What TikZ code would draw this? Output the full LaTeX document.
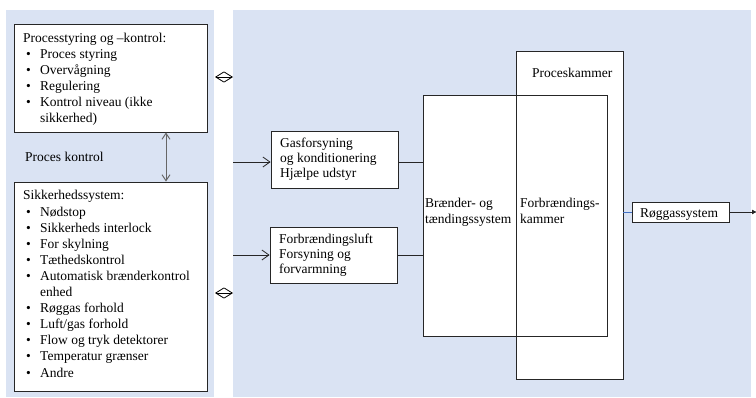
\documentclass[tikz,border=0pt]{standalone}
\usepackage{fontspec}
\setmainfont{Liberation Serif}
\usetikzlibrary{arrows.meta}
\definecolor{panel}{HTML}{DAE3F3}
\definecolor{edge}{HTML}{262626}
\definecolor{bluel}{HTML}{4472C4}
\newcommand\dfont{\fontsize{13.5}{16}\selectfont}
\newcommand\bul[1]{\makebox[14pt][l]{\textbullet}#1}
\begin{document}
\begin{tikzpicture}[x=1pt,y=-1pt,
  box/.style={draw=edge, line width=0.8pt, fill=white, inner sep=0pt},
  boxline/.style={draw=edge, line width=0.8pt},
  txt/.style={font=\dfont, inner sep=0pt, anchor=base west, text=black},
  conn/.style={draw=edge, line width=0.8pt},
  barb/.style={conn, -{Straight Barb[length=7pt,width=10pt]}},
  dbl/.style={draw=black, line width=0.8pt, {Straight Barb[length=8pt,width=10pt]}-{Straight Barb[length=8pt,width=10pt]}},
  vdbl/.style={draw=black!60, line width=1pt, {Straight Barb[length=6pt,width=8pt]}-{Straight Barb[length=6pt,width=8pt]}}
]
\useasboundingbox (0,0) rectangle (756,397);
% panels
\fill[panel] (6,10) rectangle (214,397);
\fill[panel] (233,10) rectangle (751,397);

% left boxes
\node[box, minimum width=193pt, minimum height=108pt] (tl) at (110.5,78) {};
\node[box, minimum width=193pt, minimum height=209pt] (bl) at (110.5,286.5) {};

\node[txt] (tl0) at (23,42) {Processtyring og –kontrol:};
\node[txt] (tl1) at (26,58.1) {\bul{Proces styring}};
\node[txt] (tl2) at (26,74.2) {\bul{Overvågning}};
\node[txt] (tl3) at (26,90.3) {\bul{Regulering}};
\node[txt] (tl4) at (26,106.4) {\bul{Kontrol niveau (ikke}};
\node[txt] (tl5) at (40,122.5) {sikkerhed)};

\node[txt] (pkl) at (25,161) {Proces kontrol};

\node[txt] (bl0) at (23,199.5) {Sikkerhedssystem:};
\node[txt] (bl1) at (26,216) {\bul{Nødstop}};
\node[txt] (bl2) at (26,232.1) {\bul{Sikkerheds interlock}};
\node[txt] (bl3) at (26,248.2) {\bul{For skylning}};
\node[txt] (bl4) at (26,264.3) {\bul{Tæthedskontrol}};
\node[txt] (bl5) at (26,280.4) {\bul{Automatisk brænderkontrol}};
\node[txt] (bl6) at (40,296.5) {enhed};
\node[txt] (bl7) at (26,312.6) {\bul{Røggas forhold}};
\node[txt] (bl8) at (26,328.7) {\bul{Luft/gas forhold}};
\node[txt] (bl9) at (26,344.8) {\bul{Flow og tryk detektorer}};
\node[txt] (bl10) at (26,360.9) {\bul{Temperatur grænser}};
\node[txt] (bl11) at (26,377) {\bul{Andre}};

% vertical arrow
\coordinate (vx) at (166,0);
\draw[vdbl] (vx |- tl.south) -- (vx |- bl.north);

% small double arrows
\coordinate (d1a) at (215,77);
\coordinate (d1b) at (233,77);
\draw[dbl] (d1a) -- (d1b);
\coordinate (d2a) at (215,293);
\coordinate (d2b) at (233,293);
\draw[dbl] (d2a) -- (d2b);

% supply boxes
\node[box, minimum width=127pt, minimum height=57pt] (gas) at (334.5,159.5) {};
\node[txt] (gas1) at (280,147) {Gasforsyning};
\node[txt] (gas2) at (280,162) {og konditionering};
\node[txt] (gas3) at (280,177) {Hjælpe udstyr};

\node[box, minimum width=127pt, minimum height=56pt] (air) at (333.5,255) {};
\node[txt] (air1) at (279,243) {Forbrændingsluft};
\node[txt] (air2) at (279,258) {Forsyning og};
\node[txt] (air3) at (279,273) {forvarmning};

% chambers
\node[fill=white, inner sep=0pt, minimum width=106pt, minimum height=327pt] (pk) at (570,215.5) {};
\node[box, minimum width=184pt, minimum height=241pt] (burner) at (515,215.5) {};
\draw[boxline] (pk.north west) rectangle (pk.south east);
\node[txt] (pkt) at (532,77) {Proceskammer};
\node[txt] (bu1) at (425,207) {Brænder- og};
\node[txt] (bu2) at (425,223) {tændingssystem};
\node[txt] (fk1) at (520,207) {Forbrændings-};
\node[txt] (fk2) at (520,223) {kammer};

% flue gas
\node[box, minimum width=97pt, minimum height=20pt] (rg) at (680.5,212) {};
\node[txt] (rgt) at (640,217) {Røggassystem};

% connectors
\coordinate (gin) at (233,162);
\draw[barb] (gin) -- (gin -| gas.west);
\draw[conn] (gas.east |- gin) -- (gin -| burner.west);
\coordinate (ain) at (233,255);
\draw[barb] (ain) -- (ain -| air.west);
\draw[conn] (air.east |- ain) -- (ain -| burner.west);
\draw[draw=bluel, line width=0.7pt] (pk.east |- rg.west) -- (rg.west);
\coordinate (out) at (757,212);
\draw[conn, -{Latex[length=5pt,width=5pt]}] (rg.east) -- (out);
\end{tikzpicture}
\end{document}
